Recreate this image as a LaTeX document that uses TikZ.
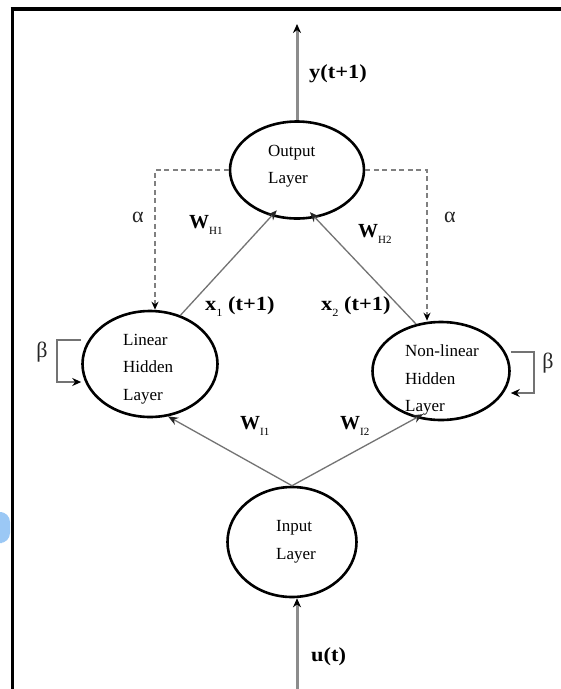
\documentclass[tikz,border=0pt]{standalone}
\usepackage{fontspec}
\setmainfont{Liberation Serif}
\newfontfamily\lblfont[FakeStretch=1.12]{Liberation Serif}
\usetikzlibrary{shapes.geometric,arrows.meta}
\definecolor{markblue}{RGB}{155,200,245}
\newcommand{\mysub}[1]{\raisebox{-0.3em}{\fontsize{11}{11}\selectfont\mdseries #1}}
\begin{document}
\begin{tikzpicture}[x=1pt,y=-1pt,
  layer/.style={draw=black,line width=2.6pt,ellipse,inner sep=0pt},
  ltext/.style={align=left,anchor=west,inner sep=0pt,font=\fontsize{17}{27.5}\selectfont},
  blab/.style={anchor=west,inner sep=0pt,font=\lblfont\fontsize{20}{20}\selectfont\bfseries},
  wlab/.style={anchor=west,inner sep=0pt,font=\fontsize{20}{20}\selectfont\bfseries},
  greek/.style={inner sep=0pt,font=\fontsize{22}{22}\selectfont,text=black!85},
  ioarrow/.style={draw=black!45,line width=3pt,-{Stealth[length=9pt,width=8pt,color=black]}},
  wtarrow/.style={draw=black!55,line width=1.3pt,-{Stealth[length=10pt,width=8pt,color=black!85]}},
  fbarrow/.style={draw=black!50,line width=2pt,dash pattern=on 5pt off 3.5pt,-{Stealth[length=8pt,width=7pt,color=black]}},
  looparrow/.style={draw=black!55,line width=2pt,-{Stealth[length=9pt,width=8pt,color=black]}}
]
\useasboundingbox (0,0) rectangle (561,689);
\fill[white] (0,0) rectangle (561,689);
% frame
\draw[line width=4pt] (10.5,9) -- (561,9);
\draw[line width=3.5pt] (12.5,7) -- (12.5,689);
% blue mark on the left edge
\fill[markblue,rounded corners=10pt] (-8,512) rectangle (10,543);

% layers
\node[layer,minimum width=134pt,minimum height=97pt] (out) at (297,170) {};
\node[layer,minimum width=135pt,minimum height=106pt] (lin) at (150,364) {};
\node[layer,minimum width=137pt,minimum height=98pt] (nl) at (441,371) {};
\node[layer,minimum width=129pt,minimum height=110pt] (inp) at (292,542) {};

\node[ltext] (outt) at (268,166) {Output\\Layer};
\node[ltext] (lint) at (123,369) {Linear\\Hidden\\Layer};
\node[ltext] (nlt) at (405,380) {Non-linear\\Hidden\\Layer};
\node[ltext] (inpt) at (276,542) {Input\\Layer};

% input / output arrows
\coordinate (ytop) at (297,24);
\coordinate (ubot) at (297,689);
\draw[ioarrow] (out.north) -- (ytop);
\draw[ioarrow] (ubot) -- ([xshift=5pt]inp.south);
\node[blab] (ylab) at (309,74) {y(t+1)};
\node[blab] (ulab) at (311,657) {u(t)};

% weighted connections
\draw[wtarrow,shorten >=-8pt] (lin.58) -- (out.241);
\draw[wtarrow,shorten >=-8pt] (nl.118) -- (out.-69);
\draw[wtarrow] (inp.north) -- (lin.-71);
\draw[wtarrow,shorten >=-8pt] (inp.north) -- (nl.242);

\node[blab] (x1lab) at (205,307) {x\mysub{1} (t+1)};
\node[blab] (x2lab) at (321,307) {x\mysub{2} (t+1)};
\node[wlab] (wh1) at (189,225) {W\mysub{H1}};
\node[wlab] (wh2) at (358,234) {W\mysub{H2}};
\node[wlab] (wi1) at (240,426) {W\mysub{I1}};
\node[wlab] (wi2) at (340,426) {W\mysub{I2}};

% feedback (dashed)
\draw[fbarrow] (out.west) -| ([xshift=5pt]lin.north);
\draw[fbarrow] (out.east) -| ([xshift=-14pt]nl.north);
\node[greek] (a1) at (138,217) {α};
\node[greek] (a2) at (450,217) {α};

% self loops
\draw[looparrow] ([yshift=24pt]lin.west) -- ++(-24,0) -- ++(0,42) -- ++(24,0);
\draw[looparrow] ([yshift=19pt]nl.east) -- ++(23,0) -- ++(0,41) -- ++(-23,0);
\node[greek] (b1) at (42,352) {β};
\node[greek] (b2) at (548,363) {β};
\end{tikzpicture}
\end{document}
